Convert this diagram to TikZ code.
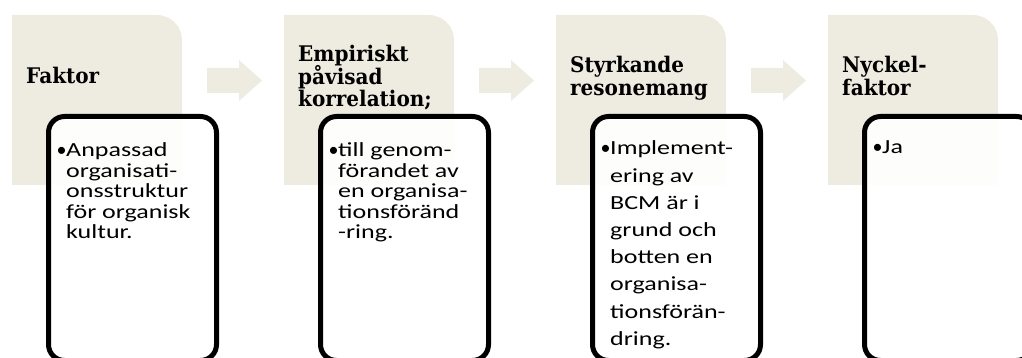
\documentclass[tikz,border=0pt]{standalone}
\usepackage{fontspec}
\setmainfont{Carlito}
\newfontfamily\bodyfont[FakeStretch=1.3]{Carlito}
\newfontfamily\headfont[FakeStretch=0.93]{DejaVu Serif}
\definecolor{tanfill}{HTML}{EEECE1}

\tikzset{
  stepbox/.style={draw=black, line width=5pt, rounded corners=16pt,
    fill=white, fill opacity=0.9, text opacity=1,
    minimum width=168pt, minimum height=244pt, inner sep=0pt, anchor=north west},
  headtext/.style={anchor=base west, inner sep=0pt,
    font=\headfont\bfseries\fontsize{21.5}{22.5}\selectfont},
  bodytext/.style={anchor=base west, inner sep=0pt,
    font=\bodyfont\fontsize{20}{22}\selectfont},
}
% one tan panel with a rounded top-right corner, and the block arrow after it
\newcommand\tanpanel[1]{%
  \fill[tanfill] (#1,185) -- (#1,15) -- (#1+145,15)
    .. controls (#1+158.8,15) and (#1+170,26.2) .. (#1+170,40)
    -- (#1+170,185) -- cycle;}
\newcommand\blockarrow[1]{%
  \fill[tanfill] (#1+195,68) -- (#1+227,68) -- (#1+227,60) -- (#1+250,80.5)
    -- (#1+227,101) -- (#1+227,93) -- (#1+195,93) -- cycle;}
% stacked lines with a fixed baseline distance; the box's baseline is the first line's
\newcommand\stack[2]{\vtop{\baselineskip=#1\lineskiplimit=-\maxdimen\lineskip=0pt
  \halign{##\hfil\cr#2\crcr}}}
\newcommand\bl{\makebox[9pt][c]{\rmfamily •}}
\newcommand\ind{\hspace*{9pt}}

\begin{document}
\begin{tikzpicture}[x=1pt,y=-1pt]
\useasboundingbox (0,0) rectangle (1022,358);
\clip (0,0) rectangle (1022,358);

\tanpanel{12}   \blockarrow{12}
\tanpanel{284}  \blockarrow{284}
\tanpanel{556}  \blockarrow{556}
\tanpanel{828}

% headings
\node[headtext] (h1) at (26,83.5) {\stack{22.5pt}{Faktor}};
\node[headtext] (h2) at (298,62) {\stack{22.5pt}{Empiriskt\cr påvisad\cr korrelation;}};
\node[headtext] (h3) at (570,73) {\stack{22.5pt}{Styrkande\cr resonemang}};
\node[headtext] (h4) at (842,73) {\stack{22.5pt}{Nyckel-\cr faktor}};

% white boxes
\node[stepbox] (b1) at (46,114) {};
\node[stepbox] (b2) at (318,114) {};
\node[stepbox] (b3) at (590,114) {};
\node[stepbox] (b4) at (862,114) {};

% box contents
\node[bodytext] (t1) at ([xshift=11pt,yshift=-43pt]b1.north west)
  {\stack{20.5pt}{\bl Anpassad\cr\ind organisati-\cr\ind onsstruktur\cr\ind för organisk\cr\ind kultur.}};
\node[bodytext] (t2) at ([xshift=11pt,yshift=-43pt]b2.north west)
  {\stack{20.5pt}{\bl till genom-\cr\ind förandet av\cr\ind en organisa-\cr\ind tionsföränd\cr\ind -ring.}};
\node[bodytext] (t3) at ([xshift=11pt,yshift=-41pt]b3.north west)
  {\stack{27.2pt}{\bl Implement-\cr\ind ering av\cr\ind BCM är i\cr\ind grund och\cr\ind botten en\cr\ind organisa-\cr\ind tionsförän-\cr\ind dring.}};
\node[bodytext] (t4) at ([xshift=11pt,yshift=-40pt]b4.north west)
  {\stack{20.5pt}{\bl Ja}};
\end{tikzpicture}
\end{document}
